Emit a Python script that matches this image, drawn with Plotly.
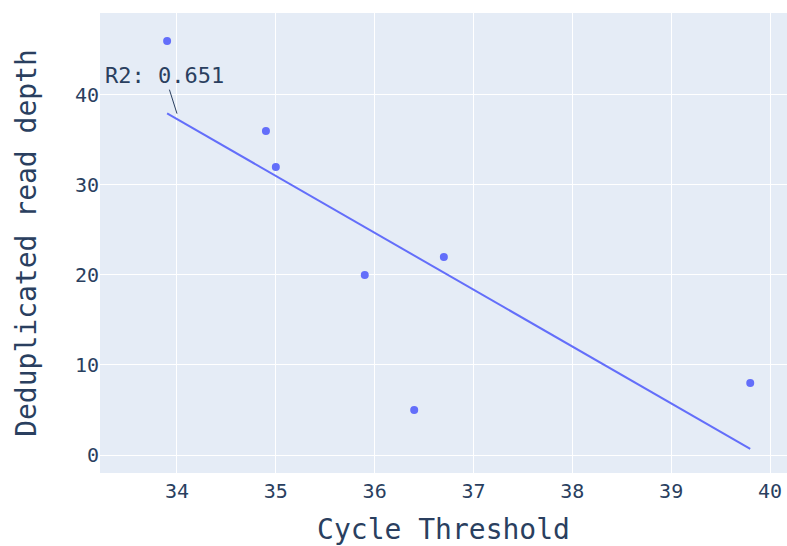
import numpy as np
import plotly.graph_objects as go

ct = [33.9, 34.9, 35.0, 35.9, 36.4, 36.7, 39.8]
depth = [46, 36, 32, 20, 5, 22, 8]

x_range = [33.221, 40.172]
y_range = [-2.0, 49.1]
x_ticks = [34, 35, 36, 37, 38, 39, 40]
y_ticks = [0, 10, 20, 30, 40]

xa = np.array(ct)
ya = np.array(depth)
slope, intercept = np.polyfit(xa, ya, 1)
fit = slope * xa + intercept
r2 = 1 - np.sum((ya - fit) ** 2) / np.sum((ya - ya.mean()) ** 2)
order = np.argsort(xa)

FONT = "DejaVu Sans Mono"
fig = go.Figure()
fig.add_trace(go.Scatter(x=ct, y=depth, mode="markers",
                         marker=dict(color="#636efa", size=8), showlegend=False))
fig.add_trace(go.Scatter(x=xa[order], y=fit[order], mode="lines",
                         line=dict(color="#636efa", width=2), showlegend=False))

fig.add_annotation(x=34.0, y=slope * 34.0 + intercept + 0.6, text=f"R2: {r2:.3f}",
                   showarrow=True, arrowhead=0, arrowwidth=1, arrowcolor="#2a3f5f",
                   ax=-12, ay=-38, font=dict(family=FONT, size=22, color="#2a3f5f"))

fig.update_layout(
    template="plotly",
    width=787, height=546,
    margin=dict(l=100, r=0, t=13, b=73),
    font=dict(family=FONT, size=20, color="#2a3f5f"),
    xaxis=dict(range=x_range, tickvals=x_ticks, automargin=False, ticklabelstandoff=4,
               title=dict(text="Cycle Threshold", font=dict(size=28), standoff=28),
               zeroline=False),
    yaxis=dict(range=y_range, tickvals=y_ticks, automargin=False,
               title=dict(text="Deduplicated read depth", font=dict(size=28), standoff=30),
               zeroline=False),
)
fig.write_html("out.html", config={"displayModeBar": False},
               post_script="document.body.style.margin='0';document.body.style.overflow='hidden';")
